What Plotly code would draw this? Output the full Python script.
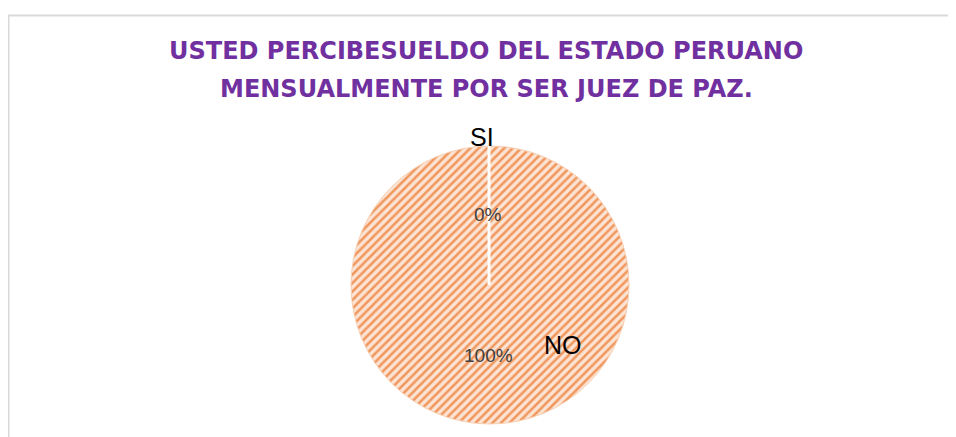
import plotly.graph_objects as go

categories = ["SI", "NO"]
values = [0, 100]
title_lines = ["USTED PERCIBESUELDO DEL ESTADO PERUANO", "MENSUALMENTE POR SER JUEZ DE PAZ."]

W, H = 956, 437
OFF = 8  # page body margin
cx, cy, r = 490, 285, 139

def px(x):
    return (x - OFF) / W

def py(y):
    return 1 - (y - OFF) / H

fig = go.Figure()
fig.add_trace(go.Pie(
    labels=categories,
    values=values,
    sort=False,
    direction="clockwise",
    rotation=0,
    textinfo="none",
    hoverinfo="label+percent",
    showlegend=False,
    marker=dict(
        colors=["#FCE4D4", "#FCE4D4"],
        line=dict(color="#F8CFB2", width=1),
        pattern=dict(shape="/", fgcolor="#F0975E", size=6, solidity=0.42, fillmode="overlay", fgopacity=1),
    ),
    domain=dict(x=[px(cx - r), px(cx + r)], y=[py(cy + r), py(cy - r)]),
))

total = sum(values)
pcts = [f"{round(v / total * 100)}%" for v in values]

shapes = [
    dict(type="rect", xref="paper", yref="paper", x0=px(8.5), y0=py(15.5), x1=px(1200), y1=py(800),
         line=dict(color="#D9D9D9", width=2), fillcolor="rgba(0,0,0,0)", layer="below"),
    dict(type="line", xref="paper", yref="paper", x0=px(489), y0=py(285), x1=px(489), y1=py(146),
         line=dict(color="white", width=3)),
]

ann = []
ann.append(dict(x=px(482), y=py(137), text=categories[0], font=dict(size=25, color="#000000")))
ann.append(dict(x=px(563), y=py(345), text=categories[1], font=dict(size=25, color="#000000")))
ann.append(dict(x=px(488), y=py(215), text=pcts[0], font=dict(size=19, color="#404040")))
ann.append(dict(x=px(489), y=py(355), text=pcts[1], font=dict(size=19, color="#404040")))
ann.append(dict(x=px(486), y=py(51), text=title_lines[0],
                font=dict(size=24, color="#7030A0", family="DejaVu Sans", weight="bold")))
ann.append(dict(x=px(486), y=py(89), text=title_lines[1],
                font=dict(size=24, color="#7030A0", family="DejaVu Sans", weight="bold")))
for a in ann:
    a.update(xref="paper", yref="paper", showarrow=False, xanchor="center", yanchor="middle")
    a["font"].setdefault("family", "Liberation Sans")

fig.update_layout(
    width=W, height=H,
    margin=dict(l=0, r=0, t=0, b=0),
    paper_bgcolor="white",
    plot_bgcolor="white",
    shapes=shapes,
    annotations=ann,
)

fig.write_html("out.html")
